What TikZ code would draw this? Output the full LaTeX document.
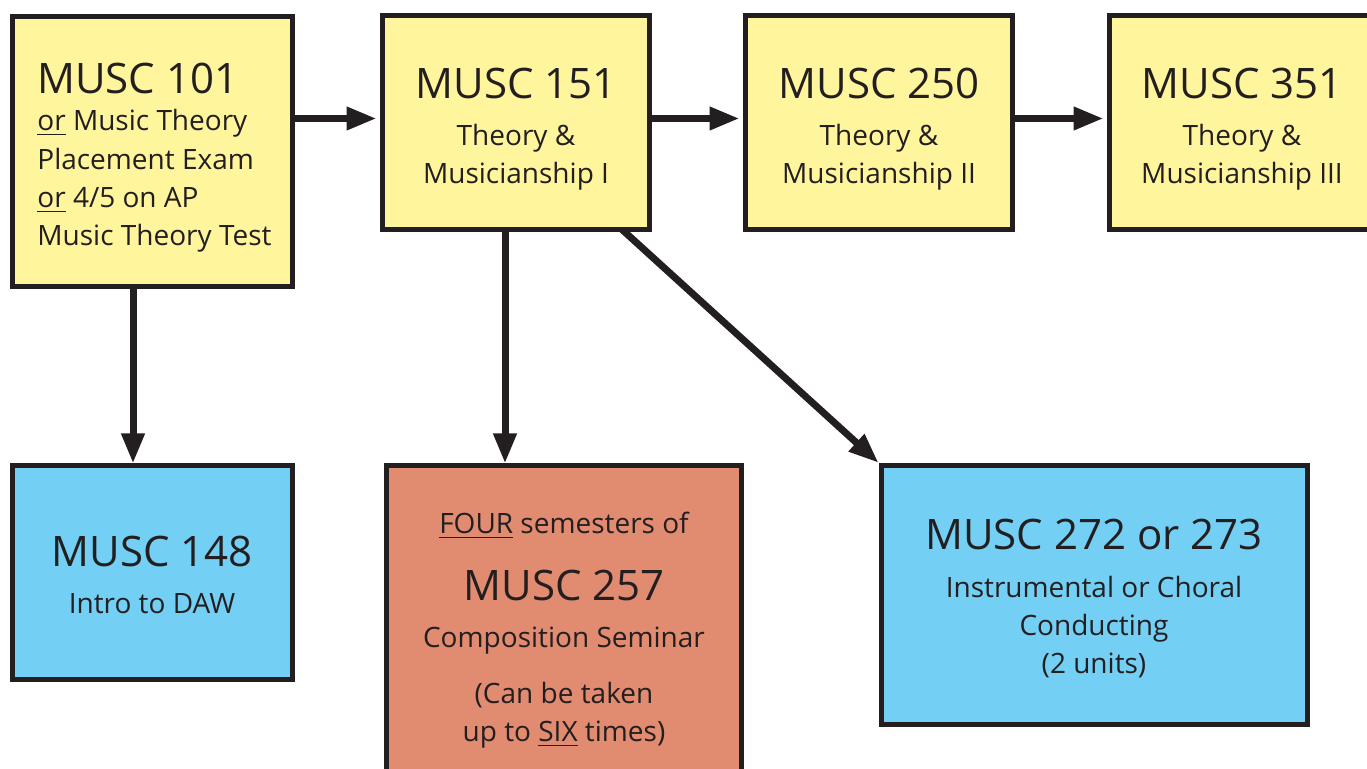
\documentclass[tikz,border=0pt]{standalone}
\usepackage{fontspec}
\setmainfont{Open Sans}
\usetikzlibrary{arrows.meta}

\definecolor{courseyellow}{HTML}{FFF59D}
\definecolor{courseblue}{HTML}{74CFF4}
\definecolor{coursesalmon}{HTML}{E18B71}
\definecolor{ink}{HTML}{231F20}

\tikzset{
  course/.style={draw=ink, line width=2.5pt, rectangle, inner sep=0pt, outer sep=0pt},
  flow/.style={draw=ink, line width=3.5pt, -{Triangle[length=15pt,width=11pt]}},
  bigtxt/.style={font=\fontsize{21}{26}\selectfont, text=ink, anchor=base, inner sep=0pt},
  smalltxt/.style={font=\fontsize{14}{17}\selectfont, text=ink, anchor=base, inner sep=0pt},
}

\begin{document}
\begin{tikzpicture}[x=0.5pt, y=-0.5pt]
\clip (0,0) rectangle (1367,769);

% top row
\node[course, fill=courseyellow, minimum width=140pt, minimum height=135pt] (b101) at (152.5,151.5) {};
\node[course, fill=courseyellow, minimum width=133.5pt, minimum height=107pt] (b151) at (516,122.5) {};
\node[course, fill=courseyellow, minimum width=133.5pt, minimum height=107pt] (b250) at (879,122.5) {};
\node[course, fill=courseyellow, minimum width=133.5pt, minimum height=107pt] (b351) at (1243,122.5) {};

% bottom row
\node[course, fill=courseblue, minimum width=140pt, minimum height=107pt] (b148) at (152.5,572.5) {};
\node[course, fill=coursesalmon, minimum width=177.5pt, minimum height=166pt] (b257) at (564,631.5) {};
\node[course, fill=courseblue, minimum width=213pt, minimum height=129.5pt] (b272) at (1094.5,595) {};

\node[bigtxt, anchor=base west] (t101a) at (37,94) {MUSC 101};
\node[smalltxt, anchor=base west] (t101b) at (37,131) {\underline{or} Music Theory};
\node[smalltxt, anchor=base west] (t101c) at (37,170) {Placement Exam};
\node[smalltxt, anchor=base west] (t101d) at (37,208) {\underline{or} 4/5 on AP};
\node[smalltxt, anchor=base west] (t101e) at (37,246) {Music Theory Test};

\node[bigtxt] (t151a) at (516,99) {MUSC 151};
\node[smalltxt] (t151b) at (516,146) {Theory \&};
\node[smalltxt] (t151c) at (516,184) {Musicianship I};

\node[bigtxt] (t250a) at (879,99) {MUSC 250};
\node[smalltxt] (t250b) at (879,146) {Theory \&};
\node[smalltxt] (t250c) at (879,184) {Musicianship II};

\node[bigtxt] (t351a) at (1242,99) {MUSC 351};
\node[smalltxt] (t351b) at (1242,146) {Theory \&};
\node[smalltxt] (t351c) at (1242,184) {Musicianship III};

\node[bigtxt] (t148a) at (152,567) {MUSC 148};
\node[smalltxt] (t148b) at (152,614) {Intro to DAW};

\node[smalltxt] (t257a) at (564,534) {\underline{FOUR} semesters of};
\node[bigtxt] (t257b) at (564,601) {MUSC 257};
\node[smalltxt] (t257c) at (564,648) {Composition Seminar};
\node[smalltxt] (t257d) at (564,704) {(Can be taken};
\node[smalltxt] (t257e) at (564,742) {up to \underline{SIX} times)};

\node[bigtxt] (t272a) at (1094,550) {MUSC 272 or 273};
\node[smalltxt] (t272b) at (1094,598) {Instrumental or Choral};
\node[smalltxt] (t272c) at (1094,636) {Conducting};
\node[smalltxt] (t272d) at (1094,674) {(2 units)};

% arrows
\draw[flow, shorten >=3pt] ([yshift=2pt]b101.east |- b151.west) -- ([yshift=2pt]b151.west);
\draw[flow, shorten >=3pt] ([yshift=2pt]b151.east) -- ([yshift=2pt]b250.west);
\draw[flow, shorten >=3pt] ([yshift=2pt]b250.east) -- ([yshift=2pt]b351.west);
\draw[flow, shorten >=1pt] ([xshift=-9.75pt]b101.south) -- ([xshift=-9.75pt]b148.north);
\draw[flow, shorten >=1pt] ([xshift=-5.5pt]b151.south) -- ([xshift=-5.5pt]b151.south |- b257.north);
\draw[flow, shorten >=2pt] ([xshift=-13.75pt]b151.south east) -- (b272.north west);
\end{tikzpicture}
\end{document}
